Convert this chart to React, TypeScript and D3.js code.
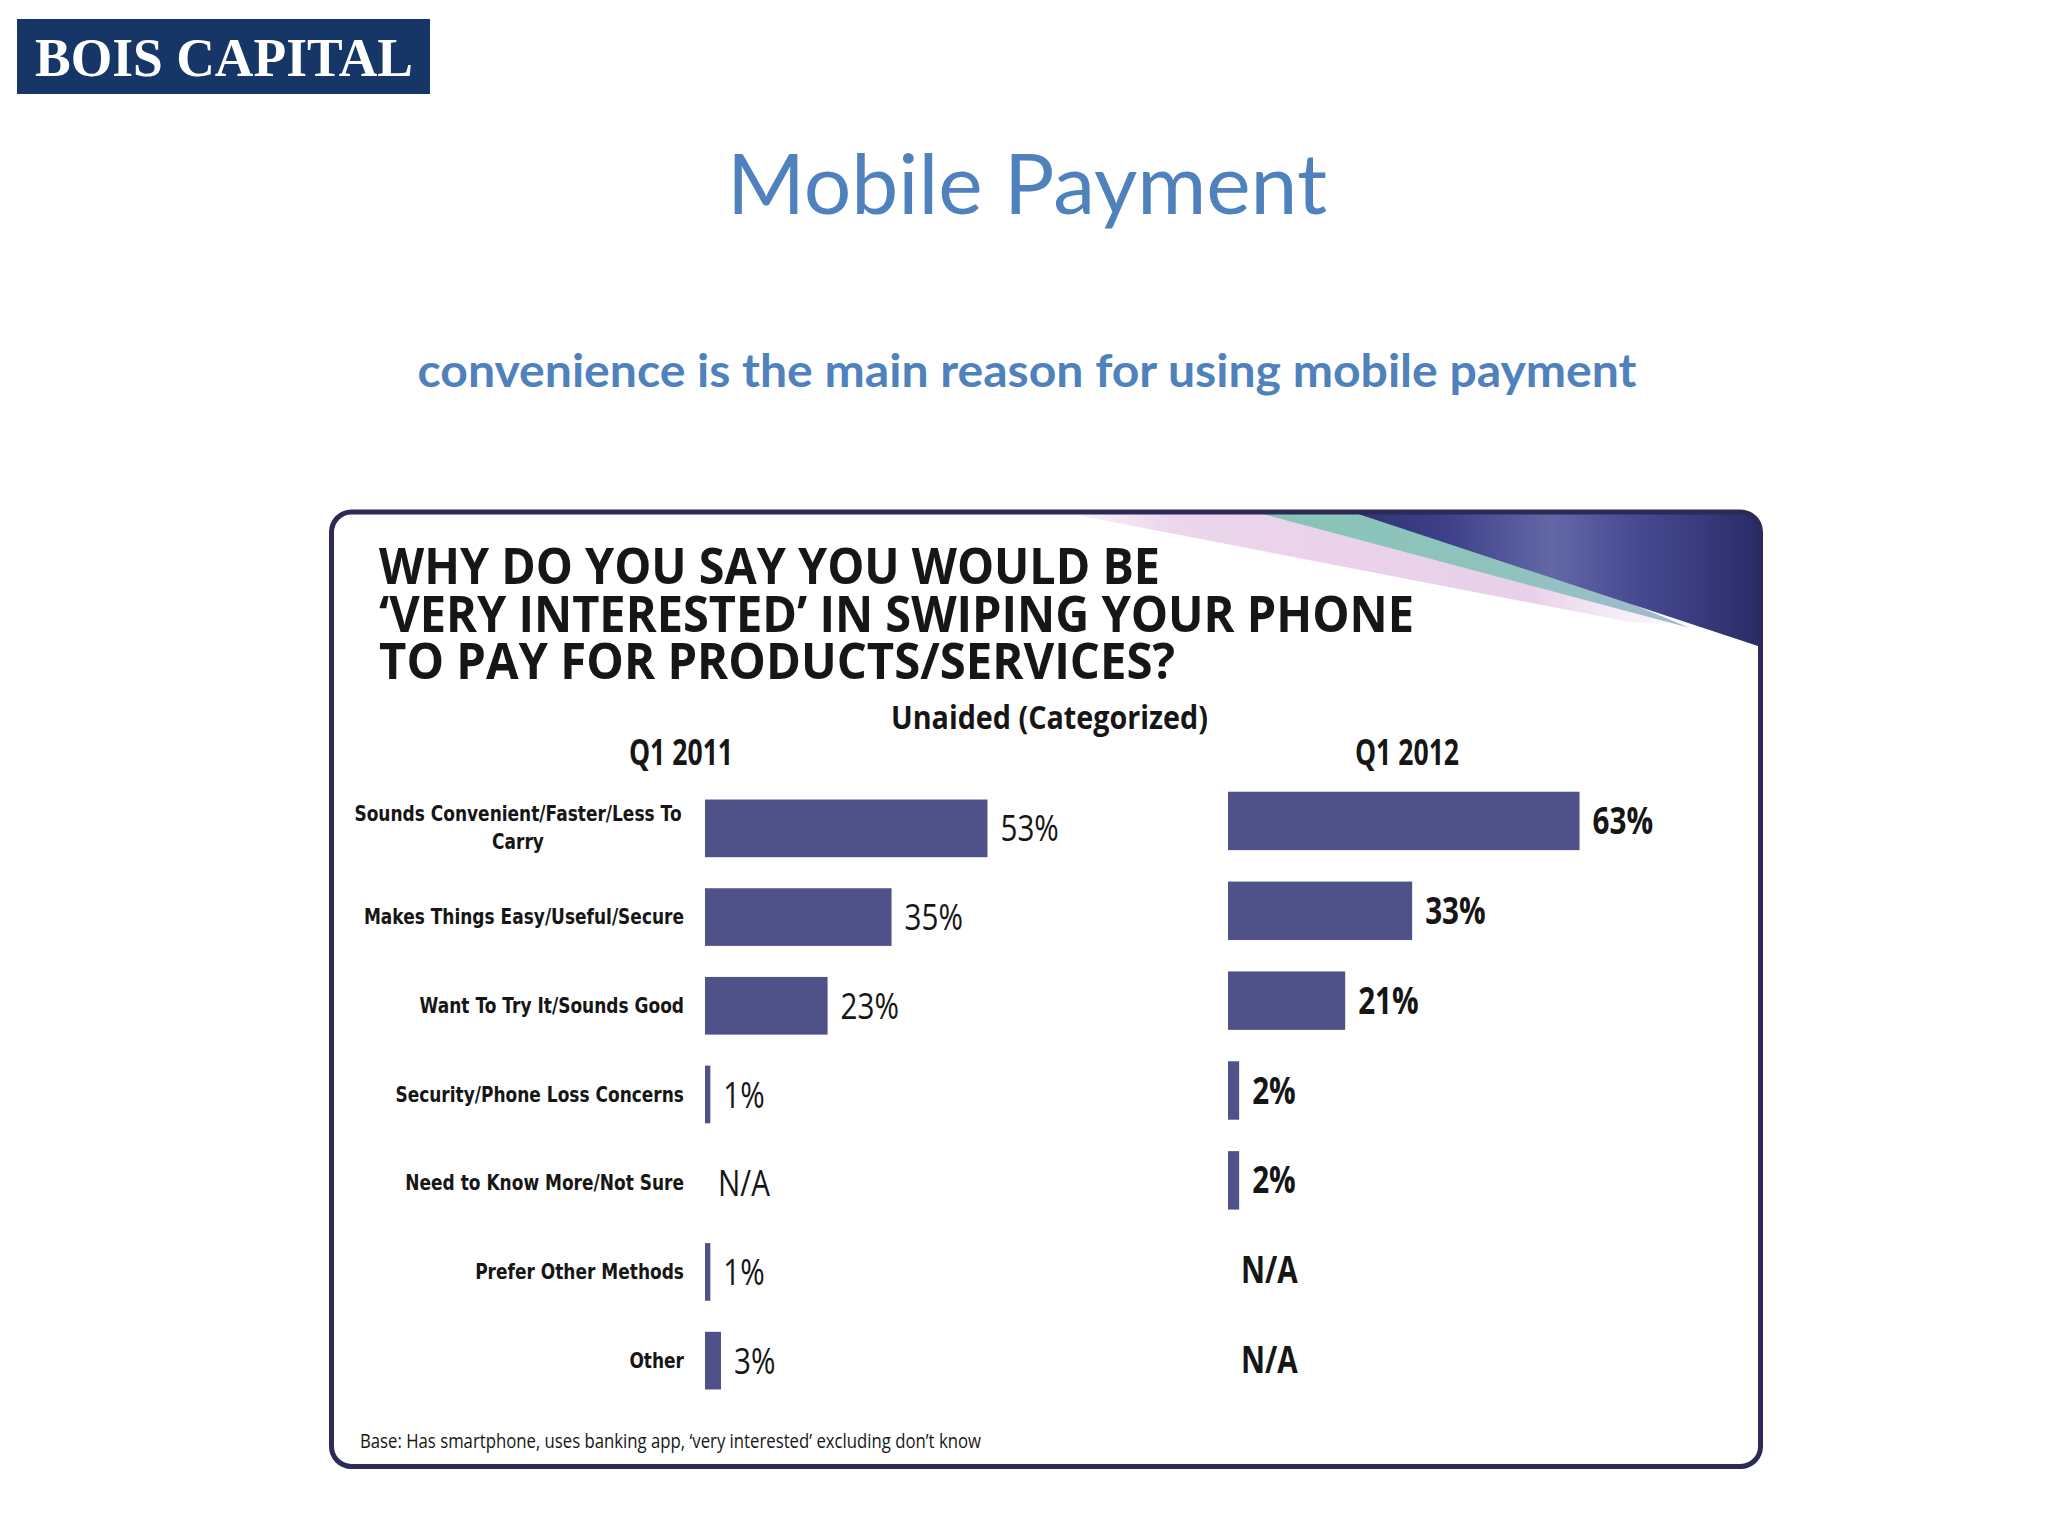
import React from "react";
import * as d3 from "d3";

const WIDTH = 2048;
const HEIGHT = 1536;

// chart values
const categoryLines = [
    ["Sounds Convenient/Faster/Less To", "Carry"],
    ["Makes Things Easy/Useful/Secure"],
    ["Want To Try It/Sounds Good"],
    ["Security/Phone Loss Concerns"],
    ["Need to Know More/Not Sure"],
    ["Prefer Other Methods"],
    ["Other"],
];
const q1_2011: (number | null)[] = [53, 35, 23, 1, null, 1, 3];
const q1_2012: (number | null)[] = [63, 33, 21, 2, 2, null, null];
const periods = ["Q1 2011", "Q1 2012"];
const questionLines = [
    "WHY DO YOU SAY YOU WOULD BE",
    "\u2018VERY INTERESTED\u2019 IN SWIPING YOUR PHONE",
    "TO PAY FOR PRODUCTS/SERVICES?",
];
const questionWidths = [781, 1035, 796];
const subHeading = "Unaided (Categorized)";
const baseNote = "Base: Has smartphone, uses banking app, \u2018very interested\u2019 excluding  don\u2019t know";

const BAR = "#4f5189";
const INK = "#161616";
const BLUE = "#4f81bd";
const CHART_FONT = "'Open Sans', 'Liberation Sans', sans-serif";
const LABEL_FONT = "'DejaVu Sans', Verdana, sans-serif";

const rows = d3.range(categoryLines.length);

const yLeft = d3.scaleBand<number>().domain(rows).range([784, 1405]).paddingInner(0.35).paddingOuter(0.175);
const yRight = d3.scaleBand<number>().domain(rows).range([776, 1405]).paddingInner(0.35).paddingOuter(0.175);
const xLeft = d3.scaleLinear().domain([0, 100]).range([705, 1238]);
const xRight = d3.scaleLinear().domain([0, 100]).range([1228, 1786]);

const LABEL_RIGHT = 684;
const LABEL_CENTER = 518;

interface STextProps {
    x: number;
    y: number;
    sx?: number;
    anchor?: string;
    size: number;
    weight?: number | string;
    family?: string;
    fill?: string;
    children: React.ReactNode;
}

// text squeezed horizontally, to get a condensed face from the fonts we have
const SText: React.FC<STextProps> = ({x, y, sx = 1, anchor = "start", size, weight = 400, family = CHART_FONT, fill = INK, children}) => (
    <text transform={`translate(${x},${y}) scale(${sx},1)`} textAnchor={anchor as any}
          fontSize={size} fontWeight={weight} fontFamily={family} fill={fill}>
        {children}
    </text>
);

const Column: React.FC<{
    values: (number | null)[];
    x: d3.ScaleLinear<number, number>;
    y: d3.ScaleBand<number>;
    weight: number;
}> = ({values, x, y, weight}) => (
    <g>
        {values.map((v, i) => {
            const cy = (y(i) as number) + y.bandwidth() / 2;
            if (v === null) {
                return <SText key={i} x={x(0) + 13} y={cy + 13} sx={0.8} size={37} weight={weight}>N/A</SText>;
            }
            return (
                <g key={i}>
                    <rect x={x(0)} y={y(i)} width={x(v) - x(0)} height={y.bandwidth()} fill={BAR}/>
                    <SText x={x(v) + 13} y={cy + 13} sx={0.8} size={37} weight={weight}>{v + "%"}</SText>
                </g>
            );
        })}
    </g>
);

export default function App() {
    const panel = {x: 331.5, y: 512, w: 1429, h: 954.5, r: 20};

    return (
        <svg width={WIDTH} height={HEIGHT} style={{position: "absolute", left: 0, top: 0, display: "block", background: "#fff"}}>
            <defs>
                <clipPath id="panelClip">
                    <rect x={panel.x} y={panel.y} width={panel.w} height={panel.h} rx={panel.r}/>
                </clipPath>
                <linearGradient id="darkGrad" gradientUnits="userSpaceOnUse" x1={1340} y1={0} x2={1762} y2={0}>
                    <stop offset="0" stopColor="#2e3173"/>
                    <stop offset="0.25" stopColor="#3d4088"/>
                    <stop offset="0.5" stopColor="#6467a6"/>
                    <stop offset="0.7" stopColor="#474a92"/>
                    <stop offset="1" stopColor="#292b66"/>
                </linearGradient>
                <linearGradient id="tealGrad" gradientUnits="userSpaceOnUse" x1={1240} y1={0} x2={1690} y2={0}>
                    <stop offset="0" stopColor="#86c4b6"/>
                    <stop offset="0.6" stopColor="#8fc3bd"/>
                    <stop offset="1" stopColor="#a3b9d2"/>
                </linearGradient>
                <linearGradient id="pinkGrad" gradientUnits="userSpaceOnUse" x1={1040} y1={0} x2={1690} y2={0}>
                    <stop offset="0" stopColor="#ecd6ec" stopOpacity={0}/>
                    <stop offset="0.2" stopColor="#ecd6ec" stopOpacity={1}/>
                    <stop offset="0.75" stopColor="#e8d0e8" stopOpacity={1}/>
                    <stop offset="1" stopColor="#f2e6f2" stopOpacity={0.2}/>
                </linearGradient>
            </defs>

            {/* logo */}
            <rect x={17} y={19} width={413} height={75} fill="#173668"/>
            <text x={35} y={76} fontFamily="'Liberation Serif', 'Times New Roman', serif" fontWeight={700}
                  fontSize={54} fill="#fff" textLength={378} lengthAdjust="spacingAndGlyphs">BOIS CAPITAL</text>

            {/* slide title */}
            <text x={1027} y={214} textAnchor="middle" fontFamily="Lato, 'Open Sans', sans-serif" fontSize={84}
                  fill={BLUE} textLength={600} lengthAdjust="spacingAndGlyphs">Mobile Payment</text>
            <text x={1027} y={387} textAnchor="middle" fontFamily="Lato, 'Open Sans', sans-serif" fontWeight={700}
                  fontSize={45} fill={BLUE} textLength={1219} lengthAdjust="spacingAndGlyphs">
                convenience is the main reason for using mobile payment
            </text>

            {/* panel */}
            <rect x={panel.x} y={panel.y} width={panel.w} height={panel.h} rx={panel.r} fill="#fff"/>
            <g clipPath="url(#panelClip)">
                <polygon points="1040,508 1290,508 1690,624 1630,622" fill="url(#pinkGrad)"/>
                <polygon points="1240,508 1400,508 1690,628" fill="url(#tealGrad)"/>
                <polygon points="1340,508 1770,508 1770,650" fill="url(#darkGrad)"/>
            </g>
            <rect x={panel.x} y={panel.y} width={panel.w} height={panel.h} rx={panel.r}
                  fill="none" stroke="#2c2b58" strokeWidth={5}/>

            {/* question */}
            {questionLines.map((line, i) => (
                <text key={i} x={379} y={584 + i * 47.5} fontFamily={CHART_FONT} fontWeight={700} fontSize={51}
                      fill={INK} textLength={questionWidths[i]} lengthAdjust="spacingAndGlyphs">{line}</text>
            ))}
            <text x={891} y={729} fontFamily={CHART_FONT} fontWeight={700} fontSize={32} fill={INK}
                  textLength={317} lengthAdjust="spacingAndGlyphs">{subHeading}</text>
            <SText x={681} y={765} sx={0.76} anchor="middle" size={35} weight={700}>{periods[0]}</SText>
            <SText x={1407} y={765} sx={0.76} anchor="middle" size={35} weight={700}>{periods[1]}</SText>

            {/* category labels */}
            {categoryLines.map((lines, i) => {
                const cy = (yLeft(i) as number) + yLeft.bandwidth() / 2;
                if (lines.length === 1) {
                    return <SText key={i} x={LABEL_RIGHT} y={cy + 7} sx={0.83} anchor="end" size={20.5}
                                  weight={700} family={LABEL_FONT}>{lines[0]}</SText>;
                }
                return (
                    <g key={i}>
                        {lines.map((l, j) => (
                            <SText key={j} x={LABEL_CENTER} y={cy - 7 + j * 28} sx={0.83} anchor="middle" size={20.5}
                                   weight={700} family={LABEL_FONT}>{l}</SText>
                        ))}
                    </g>
                );
            })}

            <Column values={q1_2011} x={xLeft} y={yLeft} weight={400}/>
            <Column values={q1_2012} x={xRight} y={yRight} weight={700}/>

            <text x={360} y={1448} fontFamily={CHART_FONT} fontSize={20} fill={INK}
                  textLength={621} lengthAdjust="spacingAndGlyphs">{baseNote}</text>
        </svg>
    );
}
